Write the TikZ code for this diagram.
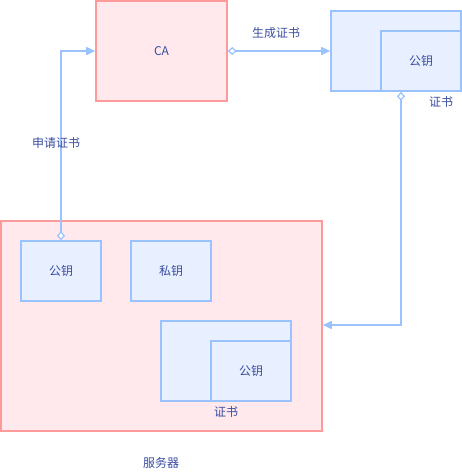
\documentclass[tikz,border=0pt]{standalone}
\usepackage{fontspec}
\setmainfont{Noto Sans CJK SC}
\usetikzlibrary{arrows.meta}
\definecolor{rstroke}{HTML}{FF9A9A}
\definecolor{rfill}{HTML}{FFE9EC}
\definecolor{bstroke}{HTML}{99C2FF}
\definecolor{bfill}{HTML}{E8F0FF}
\definecolor{txt}{HTML}{3A4CA0}
\tikzset{
  redbox/.style={draw=rstroke, fill=rfill, line width=1.6pt, inner sep=0pt},
  bluebox/.style={draw=bstroke, fill=bfill, line width=1.6pt, inner sep=0pt},
  lbl/.style={text=txt, font=\fontsize{12}{14}\selectfont, inner sep=0pt},
  conn/.style={draw=bstroke, line width=1.6pt,
    {Diamond[open, fill=white, length=9pt, width=8pt, line width=1.2pt]}-{Triangle[length=9pt, width=8pt, fill=bstroke]}},
}
\begin{document}
\begin{tikzpicture}[x=1pt,y=-1pt]
\useasboundingbox (0,0) rectangle (462,472);
% CA
\node[redbox, minimum width=131pt, minimum height=100pt] (ca) at (161.5,51) {};
\node[lbl] (calbl) at (ca.center) {CA};
% top certificate
\node[bluebox, minimum width=130pt, minimum height=80pt] (cert1) at (396,51) {};
\node[bluebox, minimum width=80pt, minimum height=60pt] (pk1) at (421,61) {};
\node[lbl] (pk1lbl) at (pk1.center) {公钥};
\node[lbl] (cert1lbl) at (441,102) {证书};
% server
\node[redbox, minimum width=321pt, minimum height=210pt] (srv) at (161.5,326) {};
\node[lbl] (srvlbl) at (161,463) {服务器};
\node[bluebox, minimum width=80pt, minimum height=60pt] (pk2) at (61,271) {};
\node[lbl] (pk2lbl) at (pk2.center) {公钥};
\node[bluebox, minimum width=80pt, minimum height=60pt] (sk) at (171,271) {};
\node[lbl] (sklbl) at (sk.center) {私钥};
\node[bluebox, minimum width=130pt, minimum height=80pt] (cert2) at (226,361) {};
\node[bluebox, minimum width=80pt, minimum height=60pt] (pk3) at (251,371) {};
\node[lbl] (pk3lbl) at (pk3.center) {公钥};
\node[lbl] (cert2lbl) at (226,412) {证书};
% connectors
\draw[conn] (ca.east) -- (cert1.west);
\node[lbl] (l1) at (276,33) {生成证书};
\draw[conn] (pk2.north) -- (pk2.north |- ca.west) -- (ca.west);
\node[lbl] (l2) at (56,143) {申请证书};
\draw[conn] (pk1.south -| 401,0) -- (401,325) -- (srv.east |- 0,325);
\end{tikzpicture}
\end{document}
